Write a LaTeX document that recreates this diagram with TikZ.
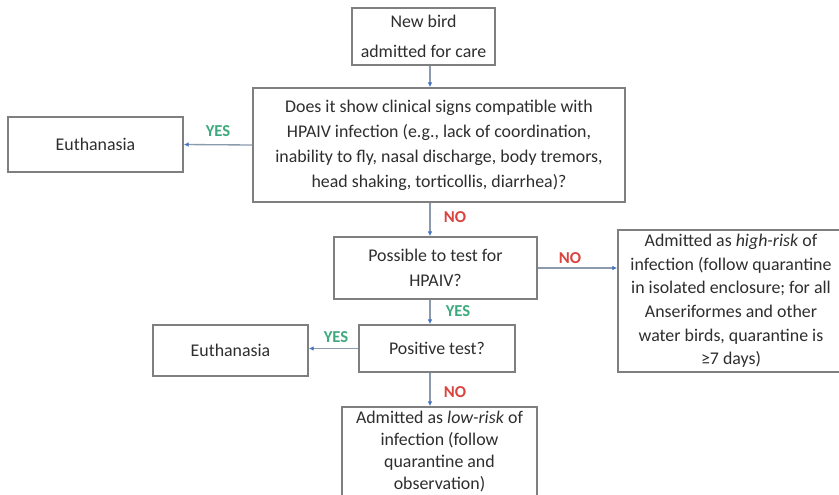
\documentclass[tikz,border=0pt]{standalone}
\usepackage{fontspec}
\setmainfont{Carlito}
\usetikzlibrary{arrows.meta}
\definecolor{txt}{HTML}{2E2E2E}
\definecolor{boxline}{HTML}{7F7F7F}
\definecolor{conn}{HTML}{8C9AAE}
\definecolor{tipblue}{HTML}{4472C4}
\definecolor{yesgreen}{HTML}{3DAA7D}
\definecolor{nored}{HTML}{D9443F}
\tikzset{
  px/.style={x=0.75pt,y=-0.75pt},
  box/.style={draw=boxline, line width=1.4pt, fill=white, text=txt, align=center, inner sep=0pt,
    font=\fontsize{13.4}{18}\selectfont},
  arr/.style={draw=conn, line width=1pt, -{Latex[length=3.5pt,width=3.5pt,color=tipblue]}},
  yeslab/.style={text=yesgreen, font=\fontsize{12.5}{14}\selectfont\bfseries, inner sep=0pt},
  nolab/.style={text=nored, font=\fontsize{12.5}{14}\selectfont\bfseries, inner sep=0pt}
}
\begin{document}
\begin{tikzpicture}[px]
\useasboundingbox (0,0) rectangle (839,494);
\clip (0,0) rectangle (839,494);
\fill[white] (0,0) rectangle (839,494);
\coordinate (cx) at (430,0);

\node[box, minimum width=143*0.75pt, minimum height=57*0.75pt,
  font=\fontsize{13.4}{23}\selectfont] (b1) at (423.5,36.5) {New bird\\admitted for care};
\node[box, minimum width=372*0.75pt, minimum height=114*0.75pt,
  font=\fontsize{13.4}{18.7}\selectfont] (b2) at (439,145)
  {Does it show clinical signs compatible with\\HPAIV infection (e.g., lack of coordination,\\inability to fly, nasal discharge, body tremors,\\head shaking, torticollis, diarrhea)?};
\node[box, minimum width=175*0.75pt, minimum height=55*0.75pt] (e1) at (95.5,144.5) {Euthanasia};
\node[box, minimum width=203*0.75pt, minimum height=62*0.75pt,
  font=\fontsize{13.4}{18.7}\selectfont] (b3) at (435.5,268) {Possible to test for\\HPAIV?};
\node[box, minimum width=226*0.75pt, minimum height=142*0.75pt,
  font=\fontsize{13.4}{17.7}\selectfont] (b4) at (731,301)
  {Admitted as \textit{high-risk} of\\infection (follow quarantine\\in isolated enclosure; for all\\Anseriformes and other\\water birds, quarantine is\\≥7 days)};
\node[box, minimum width=156*0.75pt, minimum height=47*0.75pt] (b5) at (437,348.5) {Positive test?};
\node[box, minimum width=155*0.75pt, minimum height=51*0.75pt] (e2) at (230.5,350.5) {Euthanasia};
\node[box, minimum width=195*0.75pt, minimum height=90*0.75pt,
  font=\fontsize{13.4}{16.5}\selectfont] (b6) at (439.5,452)
  {Admitted as \textit{low-risk} of\\infection (follow\\quarantine and\\observation)};

\draw[arr] (b1.south -| cx) -- (b2.north -| cx);
\draw[arr] (b2.west) -- (e1.east);
\draw[arr] (b2.south -| cx) -- (b3.north -| cx);
\draw[arr] (b3.east) -- (b3.east -| b4.west);
\draw[arr] (b3.south -| cx) -- (b5.north -| cx);
\draw[arr] (b5.west) -- (b5.west -| e2.east);
\draw[arr] (b5.south -| cx) -- (b6.north -| cx);

\node[yeslab] (l1) at (218,131) {YES};
\node[nolab] (l2) at (455,217) {NO};
\node[nolab] (l3) at (570,258) {NO};
\node[yeslab] (l4) at (458,311) {YES};
\node[yeslab] (l5) at (336,337) {YES};
\node[nolab] (l6) at (455,392) {NO};
\end{tikzpicture}
\end{document}
